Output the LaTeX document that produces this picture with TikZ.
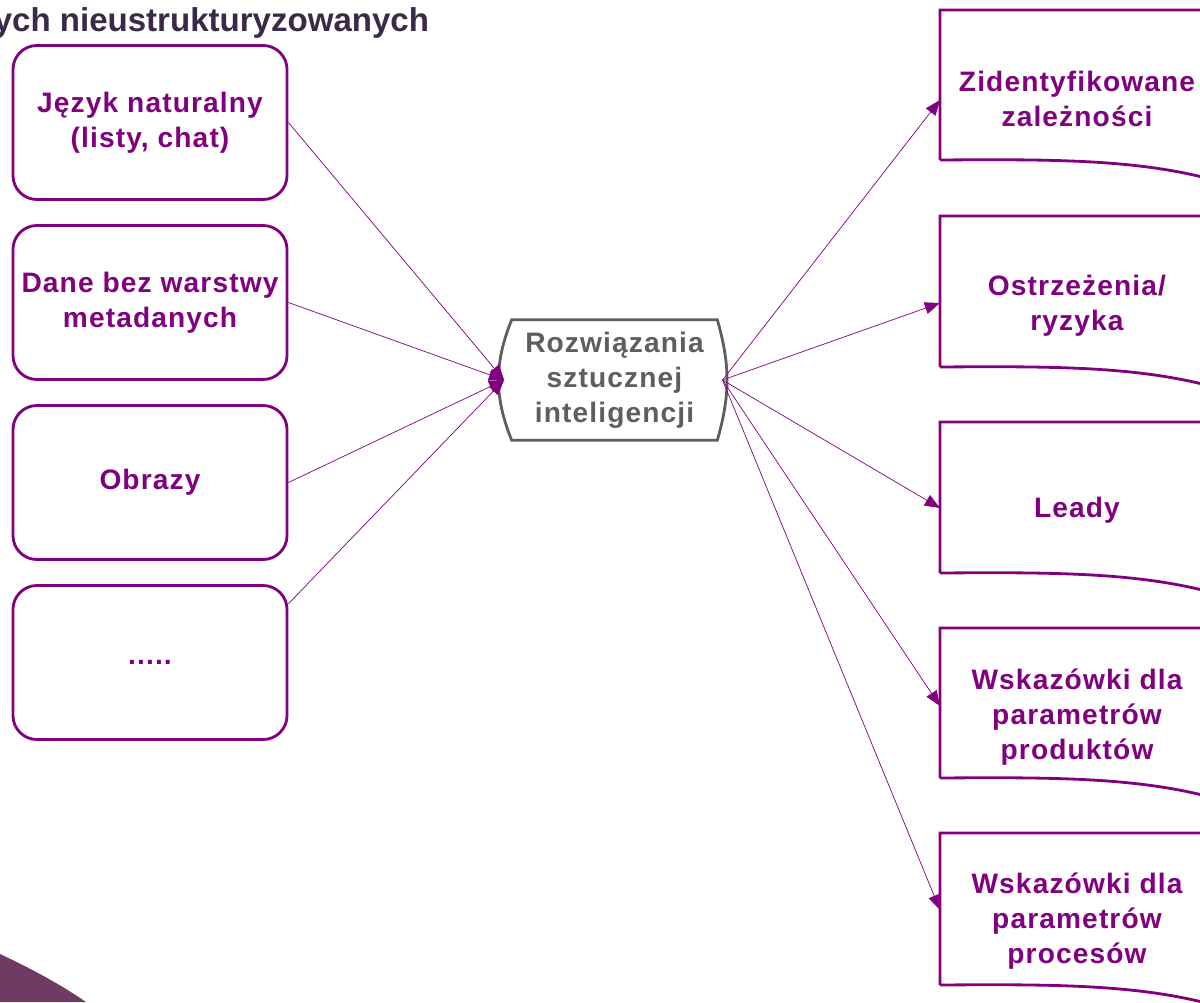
\documentclass[tikz,border=0pt]{standalone}
\usepackage{fontspec}
\setmainfont{Liberation Sans}
\newfontfamily\rozstrzel{Liberation Sans}[LetterSpace=4]
\usetikzlibrary{arrows.meta}
\definecolor{fiolet}{HTML}{800080}
\definecolor{szary}{HTML}{5E5E5E}
\definecolor{tytul}{HTML}{3B2A47}
\definecolor{wir}{HTML}{6E3C62}

\begin{document}
\begin{tikzpicture}[x=0.025cm, y=-0.025cm,
    wejscie/.style={draw=fiolet, line width=2pt, rounded corners=0.6cm,
      minimum width=6.85cm, minimum height=3.85cm, align=center,
      text=fiolet, font=\rozstrzel\fontsize{20}{25}\selectfont\bfseries},
    wynik/.style={align=center, text=fiolet,
      font=\rozstrzel\fontsize{20}{25}\selectfont\bfseries},
    rdzen/.style={minimum width=5.125cm, minimum height=3cm, align=center,
      text=szary, font=\rozstrzel\fontsize{20}{25}\selectfont\bfseries},
    ramka/.style={draw=fiolet, line width=2pt},
    strzalka/.style={draw=fiolet, line width=0.5pt,
      -{Triangle[length=0.38cm, width=0.3cm]}}]

    \useasboundingbox (0,0) rectangle (1200,1002);

    % naroznik
    \fill[wir] (0,954) .. controls (30,968) and (60,984) .. (86,1002)
        -- (0,1002) -- cycle;

    \draw(434,31) node[anchor=base east, text=tytul,
        font=\fontsize{23.5}{26}\selectfont\bfseries] (tyt)
        {ych nieustrukturyzowanych};

    % dane wejsciowe
    \draw(150,122.5) node[wejscie] (w1) {Język naturalny\\(listy, chat)};
    \draw(150,302.5) node[wejscie] (w2) {Dane bez warstwy\\metadanych};
    \draw(150,482.5) node[wejscie] (w3) {Obrazy};
    \draw(150,662.5) node[wejscie] (w4) {.....};

    % rozwiazania AI
    \draw(614.5,380) node[rdzen] (ai) {Rozwiązania\\sztucznej\\inteligencji};
    \draw[draw=szary, line width=2pt] (ai.north west) to[bend right=22] (ai.south west)
        -- (ai.south east) to[bend right=16] (ai.north east) -- cycle;
    \coordinate (cin) at ([xshift=-0.19cm]ai.west);
    \coordinate (cout) at ([xshift=0.13cm]ai.east);

    % wyniki
    \foreach \g/\d in {10/160, 216/367, 422/573, 628/778, 833/985}
        \draw[ramka] (940,\d) -- (940,\g) -- (1214,\g) -- (1214,\d+20)
            .. controls (1140,\d) and (1060,\d-1) .. (940,\d);

    \draw(1077,99) node[wynik] (r1) {Zidentyfikowane\\zależności};
    \draw(1077,305.5) node[wynik] (r2) {Ostrzeżenia/\\ryzyka};
    \draw(1077,510) node[wynik] (r3) {Leady};
    \draw(1077,717) node[wynik] (r4) {Wskazówki dla\\parametrów\\produktów};
    \draw(1077,921) node[wynik] (r5) {Wskazówki dla\\parametrów\\procesów};

    \coordinate (k1) at (940,100);
    \coordinate (k2) at (940,303);
    \coordinate (k3) at (940,508);
    \coordinate (k4) at (940,706);
    \coordinate (k5) at (940,910);

    \draw[strzalka] (w1.east) to (cin);
    \draw[strzalka] (w2.east) to (cin);
    \draw[strzalka] (w3.east) to (cin);
    \draw[strzalka] (w4.23) to (cin);

    \foreach \i in {1,...,5}
        \draw[strzalka] (cout) to (k\i);

    \end{tikzpicture}
\end{document}
